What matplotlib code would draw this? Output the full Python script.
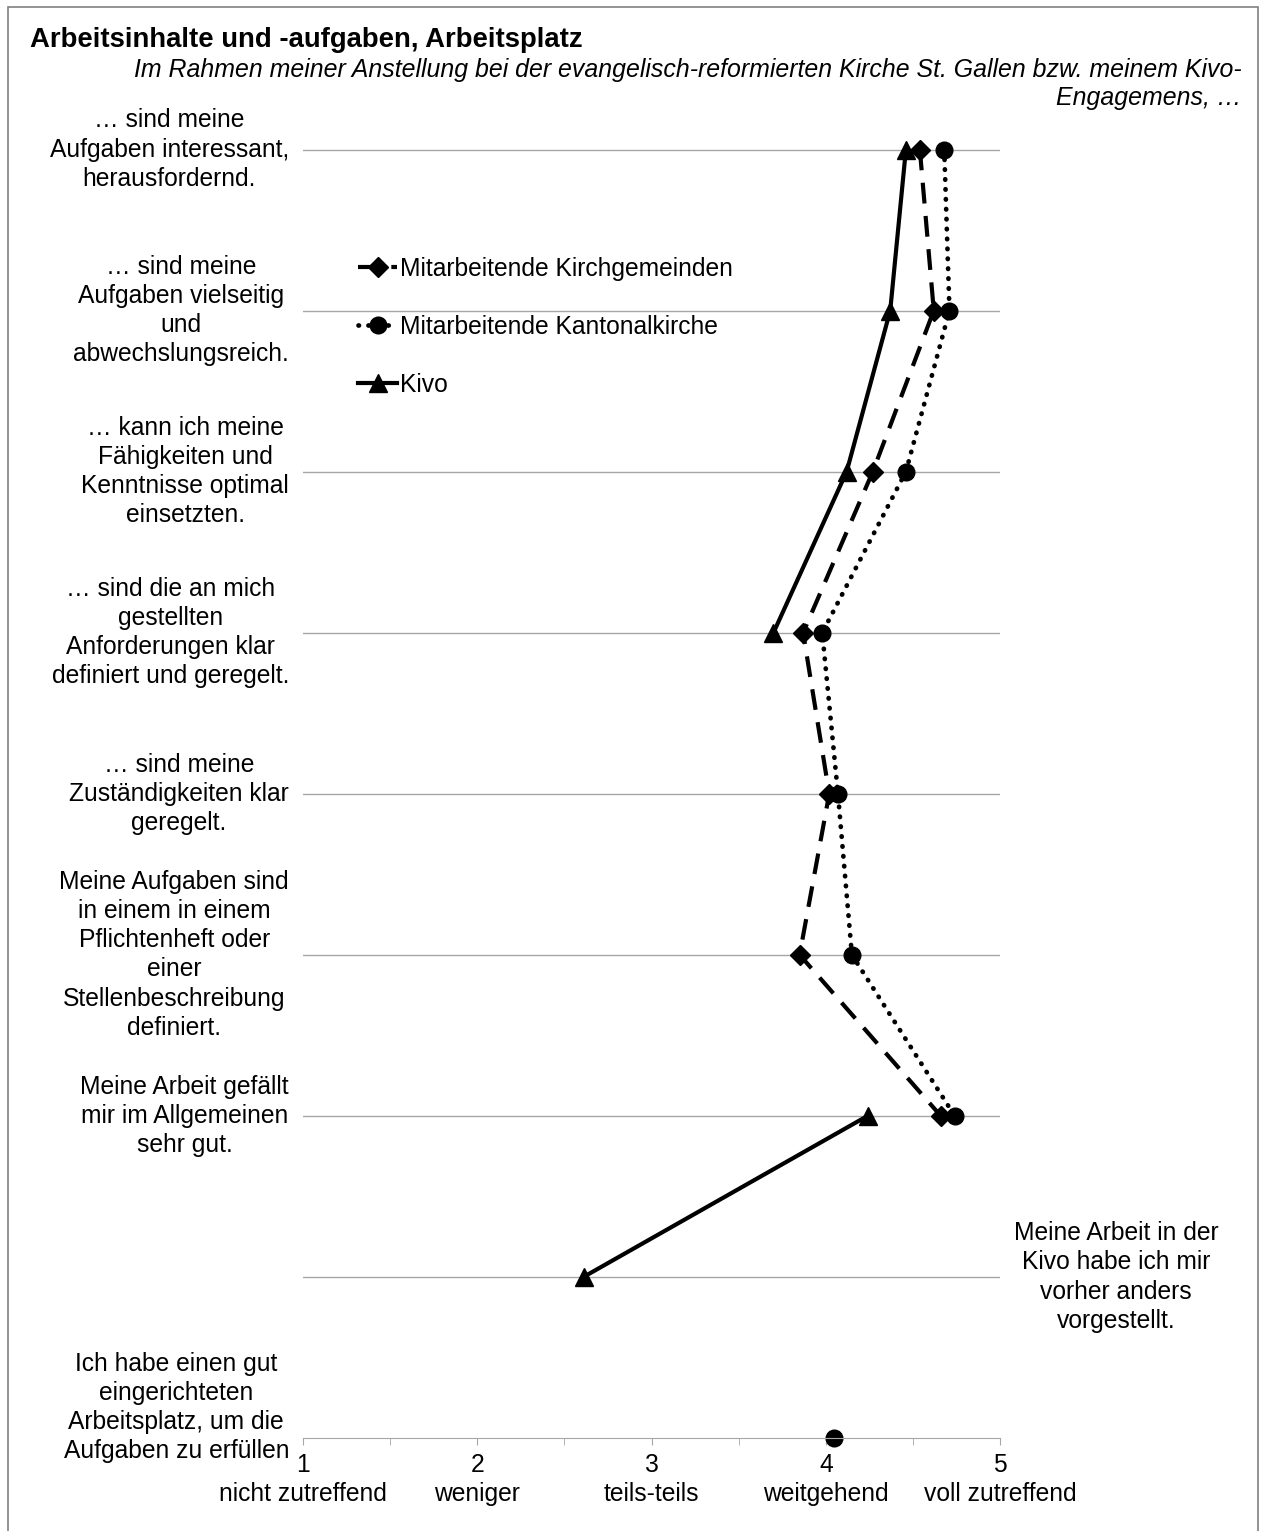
import matplotlib
matplotlib.use('Agg')
import matplotlib.pyplot as plt
import numpy as np
from matplotlib.patches import Rectangle
from matplotlib.transforms import blended_transform_factory

plt.rcParams['font.family'] = ['Liberation Sans', 'DejaVu Sans']

# statements (top to bottom)
statements = [
    "… sind meine\nAufgaben interessant,\nherausfordernd.",
    "… sind meine\nAufgaben vielseitig\nund\nabwechslungsreich.",
    "… kann ich meine\nFähigkeiten und\nKenntnisse optimal\neinsetzten.",
    "… sind die an mich\ngestellten\nAnforderungen klar\ndefiniert und geregelt.",
    "… sind meine\nZuständigkeiten klar\ngeregelt.",
    "Meine Aufgaben sind\nin einem in einem\nPflichtenheft oder\neiner\nStellenbeschreibung\ndefiniert.",
    "Meine Arbeit gefällt\nmir im Allgemeinen\nsehr gut.",
    "Meine Arbeit in der\nKivo habe ich mir\nvorher anders\nvorgestellt.",
    "Ich habe einen gut\neingerichteten\nArbeitsplatz, um die\nAufgaben zu erfüllen",
]

# mean ratings per group, nan = question not asked
kirchgemeinden = [4.54, 4.62, 4.27, 3.87, 4.02, 3.85, 4.66, np.nan, np.nan]
kantonalkirche = [4.68, 4.71, 4.46, 3.98, 4.07, 4.15, 4.74, np.nan, 4.05]
kivo = [4.46, 4.37, 4.12, 3.70, np.nan, np.nan, 4.24, 2.61, np.nan]

scale_values = [1, 2, 3, 4, 5]
scale_names = ['nicht zutreffend', 'weniger', 'teils-teils', 'weitgehend',
               'voll zutreffend']

W, H = 1263, 1531
FS = 17.7
LS = 1.27
GRID = '#a6a6a6'

fig = plt.figure(figsize=(W / 100, H / 100), dpi=100)
ax = fig.add_axes([303 / W, 1 - 1438 / H, 697 / W, (1438 - 69) / H])

rows = np.arange(len(statements))

ax.plot(kirchgemeinden, rows, color='black', lw=3, ls=(0, (5, 3)),
        marker='D', ms=10, clip_on=False,
        label='Mitarbeitende Kirchgemeinden')
ax.plot(kantonalkirche, rows, color='black', lw=3.4, ls=(0, (0.1, 2.0)),
        dash_capstyle='round', marker='o', ms=12, clip_on=False,
        label='Mitarbeitende Kantonalkirche')
ax.plot(kivo, rows, color='black', lw=3, ls='-', marker='^', ms=13,
        clip_on=False, label='Kivo')

ax.set_xlim(1, 5)
ax.set_ylim(len(statements) - 1, -0.5)

ax.set_yticks(rows[:-1])
ax.yaxis.grid(True, color=GRID, lw=1)
ax.tick_params(axis='y', left=False, labelleft=False)

ax.set_xticks(scale_values)
ax.set_xticklabels([f'{v}\n{n}' for v, n in zip(scale_values, scale_names)],
                   fontsize=FS, linespacing=1.25)
ax.set_xticks(np.arange(1.5, 5, 1.0), minor=True)
ax.tick_params(axis='x', which='both', direction='out', length=5,
               color=GRID, pad=6)

for side in ['top', 'right', 'left']:
    ax.spines[side].set_visible(False)
ax.spines['bottom'].set_color(GRID)
ax.set_axisbelow(True)

# category labels: left of the axis, one on the right side
trans = blended_transform_factory(fig.transFigure, ax.transData)
for i, txt in enumerate(statements):
    if i == 7:
        ax.text(1116 / W, i, txt, transform=trans, ha='center', va='center',
                multialignment='center', fontsize=FS, linespacing=LS)
    else:
        y = i - 0.19 if i == len(statements) - 1 else i
        ax.text(289 / W, y, txt, transform=trans, ha='right', va='center',
                multialignment='center', fontsize=FS, linespacing=LS)

ax.legend(loc='upper left', bbox_to_anchor=(358 / W, 1 - 257 / H),
          bbox_transform=fig.transFigure, frameon=False, fontsize=FS,
          handlelength=1.6, handletextpad=0.1, labelspacing=1.38,
          borderpad=0, borderaxespad=0)

fig.text(30 / W, 1 - 40 / H, 'Arbeitsinhalte und -aufgaben, Arbeitsplatz',
         fontsize=19.8, fontweight='bold', ha='left', va='center')
fig.text(1242 / W, 1 - 84 / H,
         'Im Rahmen meiner Anstellung bei der evangelisch-reformierten Kirche '
         'St. Gallen bzw. meinem Kivo-\nEngagemens, …',
         fontsize=17.9, style='italic', ha='right', va='center',
         multialignment='right', linespacing=1.25)

fig.patches.append(Rectangle((8 / W, -0.01), (1258 - 8) / W, 1.01 - 7 / H,
                             transform=fig.transFigure, fill=False,
                             ec='#808080', lw=1.2))

fig.savefig('out.png', dpi=100)
